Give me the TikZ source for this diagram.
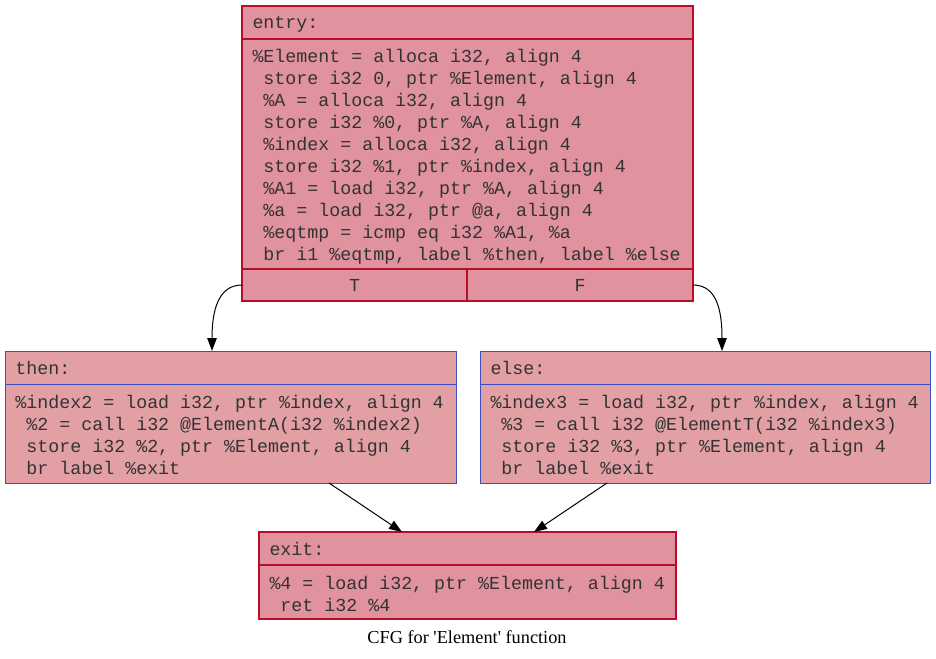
\documentclass[tikz,border=0pt]{standalone}
\usepackage{fontspec}
\setmonofont{Liberation Mono}[Ligatures=TeXOff]
\newfontfamily\capfont{Liberation Serif}[Ligatures=TeXOff]
\usetikzlibrary{
    arrows.meta,
    positioning
}
\definecolor{hotfill}{HTML}{E0929E}
\definecolor{warmfill}{HTML}{E2A0A4}
\definecolor{hotline}{HTML}{B70D28}
\definecolor{coolline}{HTML}{3D50C3}
\newcommand{\irfont}{\ttfamily\fontsize{18.3pt}{22pt}\selectfont}
% every space of an IR listing becomes one fixed character cell
\ExplSyntaxOn
\NewDocumentCommand\irtext{m}
  {
    \tl_set:Nn \l_tmpa_tl {#1}
    \tl_replace_all:Nnn \l_tmpa_tl { ~ } { \hspace*{0.6em} }
    \tl_use:N \l_tmpa_tl
  }
\ExplSyntaxOff

\begin{document}
\begin{tikzpicture}[x=1pt, y=-1pt,
    font=\irfont,
    hotpart/.style={
        draw=hotline,
        fill=hotfill,
        line width=1.2pt
    },
    coolpart/.style={
        draw=coolline,
        fill=warmfill,
        line width=1pt
    },
    code/.style={
        rectangle,
        anchor=north west,
        outer sep=0pt,
        inner ysep=0pt,
        inner xsep=10.5pt,
        align=left,
        text=black!80
    },
    head/.style={code, text height=23pt, text depth=10pt},
    port/.style={
        rectangle,
        anchor=north west,
        outer sep=0pt,
        inner sep=0pt,
        align=center,
        text=black!80,
        text height=22pt,
        text depth=10pt
    },
    caption/.style={
        font=\capfont\fontsize{18.3pt}{22pt}\selectfont
    },
    edge/.style={-{Triangle[length=13pt,width=9.5pt]}, line width=1pt, black}
]
\useasboundingbox (0,0) rectangle (936,658);

% ===== entry block =====
\node[head, hotpart, text width=430pt] (entryhead) at (242,6) {entry:};
\node[code, hotpart, text width=430pt, text height=24pt, text depth=206pt] (entrybody) at (entryhead.south west) {\irtext{%
\%Element = alloca i32, align 4\\
store i32 0, ptr \%Element, align 4\\
\%A = alloca i32, align 4\\
store i32 \%0, ptr \%A, align 4\\
\%index = alloca i32, align 4\\
store i32 \%1, ptr \%index, align 4\\
\%A1 = load i32, ptr \%A, align 4\\
\%a = load i32, ptr @a, align 4\\
\%eqtmp = icmp eq i32 \%A1, \%a\\
br i1 \%eqtmp, label \%then, label \%else}};
\node[port, hotpart, minimum width=225pt] (entryT) at (entrybody.south west) {T};
\node[port, hotpart, minimum width=226pt] (entryF) at (entryT.north east) {F};

% ===== then / else blocks =====
\node[head, coolpart, text width=430pt] (thenhead) at (5,351) {then:};
\node[code, coolpart, text width=430pt, text height=24pt, text depth=75pt] (thenbody) at (thenhead.south west) {\irtext{%
\%index2 = load i32, ptr \%index, align 4\\
\%2 = call i32 @ElementA(i32 \%index2)\\
store i32 \%2, ptr \%Element, align 4\\
br label \%exit}};

\node[head, coolpart, text width=429pt] (elsehead) at (480,351) {else:};
\node[code, coolpart, text width=429pt, text height=24pt, text depth=75pt] (elsebody) at (elsehead.south west) {\irtext{%
\%index3 = load i32, ptr \%index, align 4\\
\%3 = call i32 @ElementT(i32 \%index3)\\
store i32 \%3, ptr \%Element, align 4\\
br label \%exit}};

% ===== exit block =====
\node[head, hotpart, text width=396pt] (exithead) at (259,532) {exit:};
\node[code, hotpart, text width=396pt, text height=24pt, text depth=30pt] (exitbody) at (exithead.south west) {\irtext{%
\%4 = load i32, ptr \%Element, align 4\\
ret i32 \%4}};

\node[caption] (title) at (467,637) {CFG for 'Element' function};

% ===== edges =====
\draw[edge] (entryT.west) .. controls +(-24,0) and +(0,-40) .. ([xshift=207pt]thenhead.north west);
\draw[edge] (entryF.east) .. controls +(24,0) and +(0,-40) .. ([xshift=242pt]elsehead.north west);
\draw[edge] ([xshift=324pt]thenbody.south west) -- ([xshift=143pt]exithead.north west);
\draw[edge] ([xshift=127pt]elsebody.south west) -- ([xshift=275pt]exithead.north west);

\end{tikzpicture}
\end{document}
